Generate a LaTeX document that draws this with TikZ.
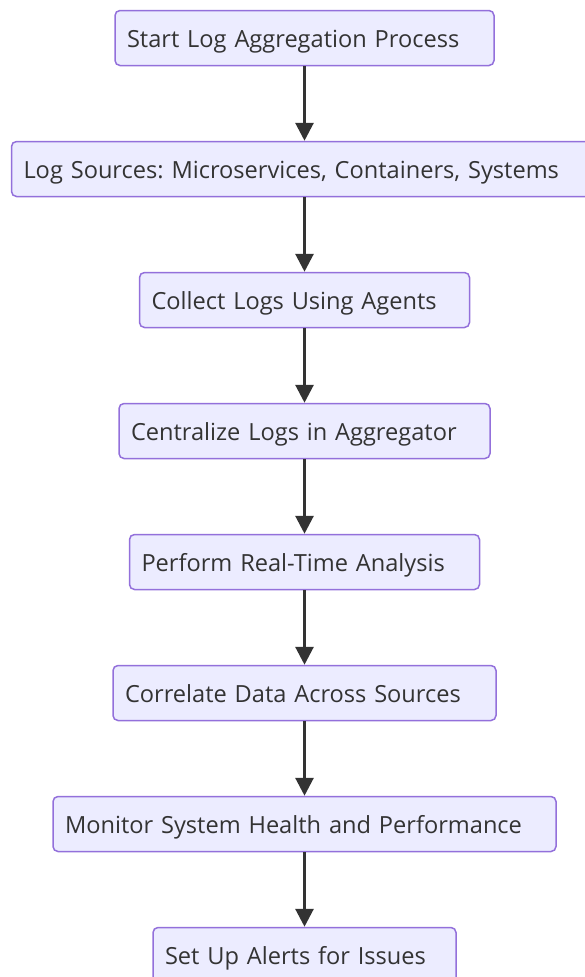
\documentclass[tikz,border=0pt]{standalone}
\usepackage{fontspec}
\setmainfont{Open Sans}
\usetikzlibrary{arrows.meta}
\definecolor{boxfill}{HTML}{ECECFF}
\definecolor{boxline}{HTML}{9370DB}
\definecolor{ink}{HTML}{333333}
\frenchspacing
\tikzset{
  flowbox/.style={draw=boxline, fill=boxfill, line width=1.5pt, rounded corners=5pt,
    minimum height=55pt, inner xsep=12pt, inner ysep=0pt, align=left,
    text height=20pt, text depth=2pt,
    text=ink, font=\fontsize{23.6}{28}\selectfont},
  flowarrow/.style={draw=ink, line width=3pt, -{Triangle[length=18pt,width=18pt]}}
}
\begin{document}
\begin{tikzpicture}[x=1pt,y=-1pt]
\useasboundingbox (0,0) rectangle (585,977);
\node[flowbox, text width=355pt] (n1) at (304.5,38) {Start Log Aggregation Process};
\node[flowbox, text width=562pt] (n2) at (304.5,169) {Log Sources: Microservices, Containers, Systems};
\node[flowbox, text width=306pt] (n3) at (304.5,300) {Collect Logs Using Agents};
\node[flowbox, text width=347pt] (n4) at (304.5,431) {Centralize Logs in Aggregator};
\node[flowbox, text width=326pt] (n5) at (304.5,562) {Perform Real-Time Analysis};
\node[flowbox, text width=359pt] (n6) at (304.5,693) {Correlate Data Across Sources};
\node[flowbox, text width=479pt] (n7) at (304.5,824) {Monitor System Health and Performance};
\node[flowbox, text width=279pt] (n8) at (304.5,955) {Set Up Alerts for Issues};
\foreach \a/\b in {n1/n2,n2/n3,n3/n4,n4/n5,n5/n6,n6/n7,n7/n8}
  \draw[flowarrow] (\a.south) -- (\b.north);
\end{tikzpicture}
\end{document}
